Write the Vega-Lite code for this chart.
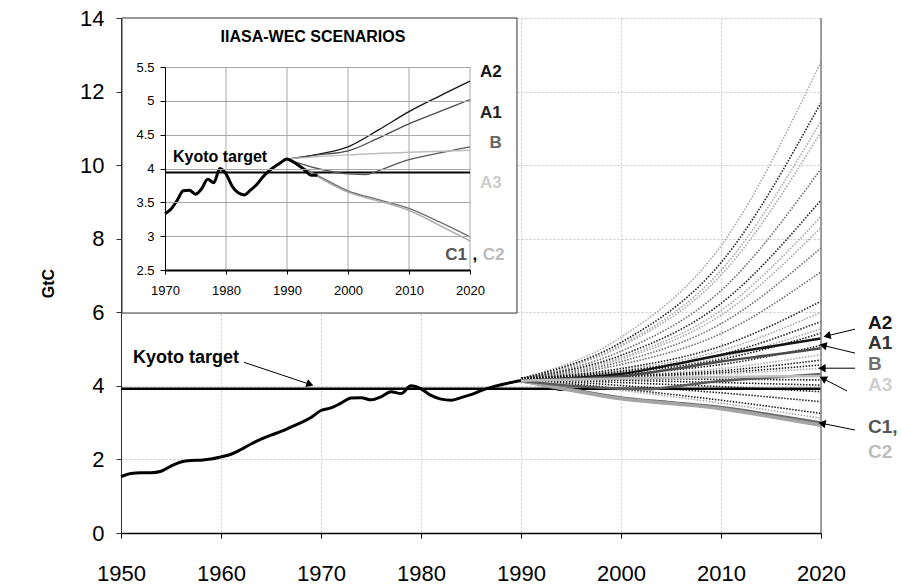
{
"$schema":"https://vega.github.io/schema/vega-lite/v6.json",
"width":700,"height":515,
"autosize":{"type":"none"},
"padding":{"left":121,"top":18,"right":80,"bottom":53},
"background":"white",
"config":{"font":"Liberation Sans","view":{"stroke":null}},
"datasets":{
"hist":[
{"year":1950,"v":1.53},{"year":1951,"v":1.62},{"year":1952,"v":1.64},{"year":1953,"v":1.64},{"year":1954,"v":1.68},
{"year":1955,"v":1.82},{"year":1956,"v":1.93},{"year":1957,"v":1.97},{"year":1958,"v":1.98},{"year":1959,"v":2.01},
{"year":1960,"v":2.07},{"year":1961,"v":2.14},{"year":1962,"v":2.27},{"year":1963,"v":2.42},{"year":1964,"v":2.55},
{"year":1965,"v":2.66},{"year":1966,"v":2.76},{"year":1967,"v":2.88},{"year":1968,"v":3.0},{"year":1969,"v":3.14},
{"year":1970,"v":3.33},{"year":1971,"v":3.4},{"year":1972,"v":3.53},{"year":1973,"v":3.67},{"year":1974,"v":3.68},
{"year":1975,"v":3.62},{"year":1976,"v":3.7},{"year":1977,"v":3.84},{"year":1978,"v":3.79},{"year":1979,"v":4.0},
{"year":1980,"v":3.92},{"year":1981,"v":3.74},{"year":1982,"v":3.64},{"year":1983,"v":3.61},{"year":1984,"v":3.68},
{"year":1985,"v":3.76},{"year":1986,"v":3.87},{"year":1987,"v":3.96},{"year":1988,"v":4.03},{"year":1989,"v":4.09},
{"year":1990,"v":4.14},{"year":1991,"v":4.1},{"year":1992,"v":4.04},{"year":1993,"v":3.97},{"year":1994,"v":3.9},{"year":1995,"v":3.9}
],
"scen":[
{"s":"A2","year":1990,"v":4.14},{"s":"A2","year":1995,"v":4.21},{"s":"A2","year":2000,"v":4.32},{"s":"A2","year":2005,"v":4.57},{"s":"A2","year":2010,"v":4.84},{"s":"A2","year":2015,"v":5.07},{"s":"A2","year":2020,"v":5.29},
{"s":"A1","year":1990,"v":4.14},{"s":"A1","year":1995,"v":4.2},{"s":"A1","year":2000,"v":4.26},{"s":"A1","year":2005,"v":4.45},{"s":"A1","year":2010,"v":4.66},{"s":"A1","year":2015,"v":4.84},{"s":"A1","year":2020,"v":5.02},
{"s":"B","year":1990,"v":4.14},{"s":"B","year":1995,"v":4.0},{"s":"B","year":2000,"v":3.92},{"s":"B","year":2003,"v":3.91},{"s":"B","year":2005,"v":3.97},{"s":"B","year":2010,"v":4.13},{"s":"B","year":2015,"v":4.23},{"s":"B","year":2020,"v":4.32},
{"s":"A3","year":1990,"v":4.14},{"s":"A3","year":2000,"v":4.2},{"s":"A3","year":2010,"v":4.24},{"s":"A3","year":2020,"v":4.27},
{"s":"C1","year":1990,"v":4.14},{"s":"C1","year":1995,"v":3.9},{"s":"C1","year":2000,"v":3.67},{"s":"C1","year":2005,"v":3.54},{"s":"C1","year":2010,"v":3.41},{"s":"C1","year":2015,"v":3.21},{"s":"C1","year":2020,"v":2.99},
{"s":"C2","year":1990,"v":4.14},{"s":"C2","year":1995,"v":3.88},{"s":"C2","year":2000,"v":3.65},{"s":"C2","year":2005,"v":3.52},{"s":"C2","year":2010,"v":3.38},{"s":"C2","year":2015,"v":3.16},{"s":"C2","year":2020,"v":2.93}
],
"fan":[
{"id":"d1","k":"L","year":1990,"v":4.2},{"id":"d1","k":"L","year":2000,"v":5.32},{"id":"d1","k":"L","year":2010,"v":7.81},{"id":"d1","k":"L","year":2020,"v":12.8},
{"id":"d2","k":"D","year":1990,"v":4.2},{"id":"d2","k":"D","year":2000,"v":5.18},{"id":"d2","k":"D","year":2010,"v":7.35},{"id":"d2","k":"D","year":2020,"v":11.7},
{"id":"d3","k":"L","year":1990,"v":4.2},{"id":"d3","k":"L","year":2000,"v":5.11},{"id":"d3","k":"L","year":2010,"v":7.14},{"id":"d3","k":"L","year":2020,"v":11.2},
{"id":"d4","k":"L","year":1990,"v":4.2},{"id":"d4","k":"L","year":2000,"v":5.07},{"id":"d4","k":"L","year":2010,"v":7.01},{"id":"d4","k":"L","year":2020,"v":10.9},
{"id":"d5","k":"M","year":1990,"v":4.2},{"id":"d5","k":"M","year":2000,"v":4.94},{"id":"d5","k":"M","year":2010,"v":6.59},{"id":"d5","k":"M","year":2020,"v":9.9},
{"id":"d6","k":"D","year":1990,"v":4.2},{"id":"d6","k":"D","year":2000,"v":4.83},{"id":"d6","k":"D","year":2010,"v":6.24},{"id":"d6","k":"D","year":2020,"v":9.05},
{"id":"d7","k":"L","year":1990,"v":4.2},{"id":"d7","k":"L","year":2000,"v":4.77},{"id":"d7","k":"L","year":2010,"v":6.05},{"id":"d7","k":"L","year":2020,"v":8.6},
{"id":"d8","k":"L","year":1990,"v":4.2},{"id":"d8","k":"L","year":2000,"v":4.73},{"id":"d8","k":"L","year":2010,"v":5.92},{"id":"d8","k":"L","year":2020,"v":8.3},
{"id":"d9","k":"M","year":1990,"v":4.2},{"id":"d9","k":"M","year":2000,"v":4.66},{"id":"d9","k":"M","year":2010,"v":5.69},{"id":"d9","k":"M","year":2020,"v":7.75},
{"id":"d10","k":"M","year":1990,"v":4.2},{"id":"d10","k":"M","year":2000,"v":4.58},{"id":"d10","k":"M","year":2010,"v":5.42},{"id":"d10","k":"M","year":2020,"v":7.1},
{"id":"d11","k":"D","year":1990,"v":4.2},{"id":"d11","k":"D","year":2000,"v":4.47},{"id":"d11","k":"D","year":2010,"v":5.08},{"id":"d11","k":"D","year":2020,"v":6.3},
{"id":"d12","k":"L","year":1990,"v":4.2},{"id":"d12","k":"L","year":2000,"v":4.43},{"id":"d12","k":"L","year":2010,"v":4.96},{"id":"d12","k":"L","year":2020,"v":6.0},
{"id":"d13","k":"D","year":1990,"v":4.2},{"id":"d13","k":"D","year":2000,"v":4.4},{"id":"d13","k":"D","year":2010,"v":4.85},{"id":"d13","k":"D","year":2020,"v":5.75},
{"id":"d14","k":"L","year":1990,"v":4.2},{"id":"d14","k":"L","year":2000,"v":4.38},{"id":"d14","k":"L","year":2010,"v":4.77},{"id":"d14","k":"L","year":2020,"v":5.55},
{"id":"d15","k":"D","year":1990,"v":4.2},{"id":"d15","k":"D","year":2000,"v":4.36},{"id":"d15","k":"D","year":2010,"v":4.72},{"id":"d15","k":"D","year":2020,"v":5.43},
{"id":"d16","k":"D","year":1990,"v":4.2},{"id":"d16","k":"D","year":2000,"v":4.32},{"id":"d16","k":"D","year":2010,"v":4.58},{"id":"d16","k":"D","year":2020,"v":5.1},
{"id":"d17","k":"L","year":1990,"v":4.2},{"id":"d17","k":"L","year":2000,"v":4.28},{"id":"d17","k":"L","year":2010,"v":4.47},{"id":"d17","k":"L","year":2020,"v":4.85},
{"id":"d18","k":"D","year":1990,"v":4.2},{"id":"d18","k":"D","year":2000,"v":4.27},{"id":"d18","k":"D","year":2010,"v":4.41},{"id":"d18","k":"D","year":2020,"v":4.7},
{"id":"d19","k":"D","year":1990,"v":4.2},{"id":"d19","k":"D","year":2000,"v":4.25},{"id":"d19","k":"D","year":2010,"v":4.36},{"id":"d19","k":"D","year":2020,"v":4.57},
{"id":"d20","k":"L","year":1990,"v":4.2},{"id":"d20","k":"L","year":2000,"v":4.24},{"id":"d20","k":"L","year":2010,"v":4.32},{"id":"d20","k":"L","year":2020,"v":4.48},
{"id":"d21","k":"D","year":1990,"v":4.2},{"id":"d21","k":"D","year":2000,"v":4.19},{"id":"d21","k":"D","year":2010,"v":4.18},{"id":"d21","k":"D","year":2020,"v":4.16},
{"id":"d22","k":"D","year":1990,"v":4.2},{"id":"d22","k":"D","year":2000,"v":4.15},{"id":"d22","k":"D","year":2010,"v":4.09},{"id":"d22","k":"D","year":2020,"v":4.02},
{"id":"d23","k":"D","year":1990,"v":4.2},{"id":"d23","k":"D","year":2000,"v":4.09},{"id":"d23","k":"D","year":2010,"v":3.98},{"id":"d23","k":"D","year":2020,"v":3.84},
{"id":"d24","k":"D","year":1990,"v":4.2},{"id":"d24","k":"D","year":2000,"v":4.01},{"id":"d24","k":"D","year":2010,"v":3.81},{"id":"d24","k":"D","year":2020,"v":3.57},
{"id":"d25","k":"D","year":1990,"v":4.2},{"id":"d25","k":"D","year":2000,"v":3.92},{"id":"d25","k":"D","year":2010,"v":3.61},{"id":"d25","k":"D","year":2020,"v":3.25},
{"id":"d26","k":"L","year":1990,"v":4.2},{"id":"d26","k":"L","year":2000,"v":3.88},{"id":"d26","k":"L","year":2010,"v":3.53},{"id":"d26","k":"L","year":2020,"v":3.12}
]
},
"layer":[
{
"layer":[
{"data":{"name":"fan"},"transform":[{"filter":"datum.k==='L'"}],
 "mark":{"type":"line","interpolate":"monotone","strokeDash":[1.5,1.5],"strokeWidth":1.6,"color":"#a8a8a8"},
 "encoding":{
  "x":{"field":"year","type":"quantitative","scale":{"domain":[1950,2020],"nice":false,"zero":false},
   "axis":{"values":[1950,1960,1970,1980,1990,2000,2010,2020],"format":"d","title":null,"grid":true,"gridColor":"#c8c8c8","gridDash":[2,2],"gridWidth":1,"domainColor":"#000","domainWidth":1.5,"tickColor":"#000","tickSize":5,"labelFontSize":22,"labelColor":"#000","labelPadding":25,"labelFlush":false,"labelOverlap":false}},
  "y":{"field":"v","type":"quantitative","scale":{"domain":[0,14],"nice":false},
   "axis":{"values":[0,2,4,6,8,10,12,14],"title":"GtC","titleFontSize":16,"titleFontWeight":"bold","titleColor":"#000","titleX":-73,"titleY":265,"titleAngle":-90,"titleAlign":"center","titleBaseline":"middle","grid":true,"gridColor":"#c8c8c8","gridDash":[2,2],"gridWidth":1,"domainColor":"#333","tickColor":"#333","tickSize":5,"labelFontSize":22,"labelColor":"#000","labelPadding":12,"labelFlush":false,"labelOverlap":false}},
  "detail":{"field":"id"}}},
{"data":{"name":"fan"},"transform":[{"filter":"datum.k==='M'"}],
 "mark":{"type":"line","interpolate":"monotone","strokeDash":[1.5,1.5],"strokeWidth":1.6,"color":"#6e6e6e"},
 "encoding":{"x":{"field":"year","type":"quantitative"},"y":{"field":"v","type":"quantitative"},"detail":{"field":"id"}}},
{"data":{"name":"fan"},"transform":[{"filter":"datum.k==='D'"}],
 "mark":{"type":"line","interpolate":"monotone","strokeDash":[1.5,1.5],"strokeWidth":1.6,"color":"#222222"},
 "encoding":{"x":{"field":"year","type":"quantitative"},"y":{"field":"v","type":"quantitative"},"detail":{"field":"id"}}},
{"data":{"values":[{}]},"mark":{"type":"rule","color":"#000","strokeWidth":2.5},
 "encoding":{"x":{"datum":1950},"x2":{"datum":2020},"y":{"datum":3.92}}},
{"data":{"name":"hist"},"mark":{"type":"line","interpolate":"monotone","color":"#000","strokeWidth":3},
 "encoding":{"x":{"field":"year","type":"quantitative"},"y":{"field":"v","type":"quantitative"}}},
{"data":{"name":"scen"},"transform":[{"filter":"datum.s==='C1'||datum.s==='C2'"}],
 "mark":{"type":"line","interpolate":"monotone","strokeWidth":3.5},
 "encoding":{"x":{"field":"year","type":"quantitative"},"y":{"field":"v","type":"quantitative"},
  "color":{"field":"s","type":"nominal","scale":{"domain":["A2","A1","B","A3","C1","C2"],"range":["#151515","#4a4a4a","#5a5a5a","#bdbdbd","#6e6e6e","#a5a5a5"]},"legend":null}}},
{"data":{"name":"scen"},"transform":[{"filter":"datum.s!=='C1'&&datum.s!=='C2'"}],
 "mark":{"type":"line","interpolate":"monotone","strokeWidth":2.5},
 "encoding":{"x":{"field":"year","type":"quantitative"},"y":{"field":"v","type":"quantitative"},
  "color":{"field":"s","type":"nominal","legend":null}}},
{"data":{"values":[{}]},"mark":{"type":"rule","color":"#808080","strokeWidth":1.5},
 "encoding":{"x":{"datum":2020},"y":{"datum":0},"y2":{"datum":14}}},
{"data":{"values":[{}]},"mark":{"type":"text","text":"Kyoto target","align":"left","baseline":"middle","fontSize":18,"fontWeight":"bold","color":"#000"},
 "encoding":{"x":{"datum":1951.2},"y":{"datum":4.76}}},
{"data":{"values":[{}]},"mark":{"type":"rule","color":"#000","strokeWidth":1},
 "encoding":{"x":{"datum":1962.3},"y":{"datum":4.64},"x2":{"datum":1968.9},"y2":{"datum":4.04}}},
{"data":{"values":[{}]},"mark":{"type":"point","shape":"triangle-up","filled":true,"color":"#000","opacity":1,"size":70,"angle":110},
 "encoding":{"x":{"datum":1968.9},"y":{"datum":4.04}}},
{"data":{"values":[{}]},"mark":{"type":"rule","color":"#000","strokeWidth":1},
 "encoding":{"x":{"datum":2023.4},"y":{"datum":5.54},"x2":{"datum":2020.6},"y2":{"datum":5.36}}},
{"data":{"values":[{}]},"mark":{"type":"point","shape":"triangle-up","filled":true,"color":"#000","opacity":1,"size":70,"angle":257},
 "encoding":{"x":{"datum":2020.6},"y":{"datum":5.36}}},
{"data":{"values":[{}]},"mark":{"type":"rule","color":"#000","strokeWidth":1},
 "encoding":{"x":{"datum":2023.4},"y":{"datum":4.89},"x2":{"datum":2020.2},"y2":{"datum":5.1}}},
{"data":{"values":[{}]},"mark":{"type":"point","shape":"triangle-up","filled":true,"color":"#000","opacity":1,"size":70,"angle":283},
 "encoding":{"x":{"datum":2020.2},"y":{"datum":5.1}}},
{"data":{"values":[{}]},"mark":{"type":"rule","color":"#000","strokeWidth":1},
 "encoding":{"x":{"datum":2023.4},"y":{"datum":4.48},"x2":{"datum":2020.1},"y2":{"datum":4.48}}},
{"data":{"values":[{}]},"mark":{"type":"point","shape":"triangle-up","filled":true,"color":"#000","opacity":1,"size":70,"angle":270},
 "encoding":{"x":{"datum":2020.1},"y":{"datum":4.48}}},
{"data":{"values":[{}]},"mark":{"type":"rule","color":"#000","strokeWidth":1},
 "encoding":{"x":{"datum":2022.6},"y":{"datum":3.86},"x2":{"datum":2020.2},"y2":{"datum":4.2}}},
{"data":{"values":[{}]},"mark":{"type":"point","shape":"triangle-up","filled":true,"color":"#000","opacity":1,"size":70,"angle":297},
 "encoding":{"x":{"datum":2020.2},"y":{"datum":4.2}}},
{"data":{"values":[{}]},"mark":{"type":"rule","color":"#000","strokeWidth":1},
 "encoding":{"x":{"datum":2023.4},"y":{"datum":2.8},"x2":{"datum":2020.1},"y2":{"datum":2.98}}},
{"data":{"values":[{}]},"mark":{"type":"point","shape":"triangle-up","filled":true,"color":"#000","opacity":1,"size":70,"angle":281},
 "encoding":{"x":{"datum":2020.1},"y":{"datum":2.98}}},
{"data":{"values":[{}]},"mark":{"type":"text","text":"A2","align":"left","baseline":"middle","fontSize":19,"fontWeight":"bold","color":"#151515"},
 "encoding":{"x":{"datum":2024.7},"y":{"datum":5.71}}},
{"data":{"values":[{}]},"mark":{"type":"text","text":"A1","align":"left","baseline":"middle","fontSize":19,"fontWeight":"bold","color":"#333333"},
 "encoding":{"x":{"datum":2024.7},"y":{"datum":5.16}}},
{"data":{"values":[{}]},"mark":{"type":"text","text":"B","align":"left","baseline":"middle","fontSize":19,"fontWeight":"bold","color":"#707070"},
 "encoding":{"x":{"datum":2024.7},"y":{"datum":4.59}}},
{"data":{"values":[{}]},"mark":{"type":"text","text":"A3","align":"left","baseline":"middle","fontSize":19,"fontWeight":"bold","color":"#cfcfcf"},
 "encoding":{"x":{"datum":2024.7},"y":{"datum":4.02}}},
{"data":{"values":[{}]},"mark":{"type":"text","text":"C1,","align":"left","baseline":"middle","fontSize":19,"fontWeight":"bold","color":"#555555"},
 "encoding":{"x":{"datum":2024.7},"y":{"datum":2.88}}},
{"data":{"values":[{}]},"mark":{"type":"text","text":"C2","align":"left","baseline":"middle","fontSize":19,"fontWeight":"bold","color":"#bdbdbd"},
 "encoding":{"x":{"datum":2024.7},"y":{"datum":2.2}}}
]
},
{
"layer":[
{"data":{"values":[{}]},"mark":{"type":"rect","fill":"#ffffff","stroke":"#333333","strokeWidth":1},
 "encoding":{
  "x":{"datum":1962.95,"type":"quantitative","scale":{"domain":[1970,2020],"range":[44,349],"nice":false,"zero":false},
   "axis":{"orient":"bottom","offset":-263,"values":[1970,1980,1990,2000,2010,2020],"format":"d","title":null,"grid":false,"domainColor":"#000","domainWidth":2,"tickColor":"#000","tickSize":4,"labelFontSize":13,"labelColor":"#000","labelPadding":10,"labelFlush":false,"labelOverlap":false,"zindex":1}},
  "x2":{"datum":2027.7},
  "y":{"datum":6.224,"type":"quantitative","scale":{"domain":[2.5,5.5],"range":[252,49],"nice":false,"zero":false},
   "axis":{"orient":"left","offset":-44,"values":[2.5,3,3.5,4,4.5,5,5.5],"format":"~g","title":null,"grid":true,"gridColor":"#a8a8a8","gridWidth":1,"domainColor":"#000","tickColor":"#000","tickSize":5,"labelFontSize":13,"labelColor":"#000","labelPadding":6,"labelFlush":false,"labelOverlap":false,"zindex":1}},
  "y2":{"datum":1.864}}},
{"data":{"values":[{}]},"mark":{"type":"rule","color":"#a8a8a8","strokeWidth":1},
 "encoding":{"x":{"datum":1980},"y":{"datum":2.5},"y2":{"datum":5.5}}},
{"data":{"values":[{}]},"mark":{"type":"rule","color":"#a8a8a8","strokeWidth":1},
 "encoding":{"x":{"datum":1990},"y":{"datum":2.5},"y2":{"datum":5.5}}},
{"data":{"values":[{}]},"mark":{"type":"rule","color":"#a8a8a8","strokeWidth":1},
 "encoding":{"x":{"datum":2000},"y":{"datum":2.5},"y2":{"datum":5.5}}},
{"data":{"values":[{}]},"mark":{"type":"rule","color":"#a8a8a8","strokeWidth":1},
 "encoding":{"x":{"datum":2010},"y":{"datum":2.5},"y2":{"datum":5.5}}},
{"data":{"values":[{}]},"mark":{"type":"rule","color":"#a8a8a8","strokeWidth":1},
 "encoding":{"x":{"datum":2020},"y":{"datum":2.5},"y2":{"datum":5.5}}},
{"data":{"values":[{}]},"mark":{"type":"rule","color":"#000","strokeWidth":2},
 "encoding":{"x":{"datum":1970},"x2":{"datum":2020},"y":{"datum":3.94}}},
{"data":{"name":"scen"},"mark":{"type":"line","interpolate":"monotone","strokeWidth":1.3},
 "encoding":{"x":{"field":"year","type":"quantitative"},"y":{"field":"v","type":"quantitative"},
  "color":{"field":"s","type":"nominal","legend":null}}},
{"data":{"name":"hist"},"transform":[{"filter":"datum.year>=1970"}],"mark":{"type":"line","interpolate":"monotone","color":"#000","strokeWidth":3},
 "encoding":{"x":{"field":"year","type":"quantitative"},"y":{"field":"v","type":"quantitative"}}},
{"data":{"values":[{}]},"mark":{"type":"text","text":"IIASA-WEC SCENARIOS","align":"center","baseline":"middle","fontSize":16,"fontWeight":"bold","color":"#000"},
 "encoding":{"x":{"datum":1994.26},"y":{"datum":5.94}}},
{"data":{"values":[{}]},"mark":{"type":"text","text":"Kyoto target","align":"left","baseline":"middle","fontSize":16,"fontWeight":"bold","color":"#000"},
 "encoding":{"x":{"datum":1971.3},"y":{"datum":4.17}}},
{"data":{"values":[{}]},"mark":{"type":"text","text":"A2","align":"right","baseline":"middle","fontSize":17,"fontWeight":"bold","color":"#151515"},
 "encoding":{"x":{"datum":2025.2},"y":{"datum":5.43}}},
{"data":{"values":[{}]},"mark":{"type":"text","text":"A1","align":"right","baseline":"middle","fontSize":17,"fontWeight":"bold","color":"#222222"},
 "encoding":{"x":{"datum":2025.2},"y":{"datum":4.82}}},
{"data":{"values":[{}]},"mark":{"type":"text","text":"B","align":"right","baseline":"middle","fontSize":17,"fontWeight":"bold","color":"#666666"},
 "encoding":{"x":{"datum":2025.2},"y":{"datum":4.38}}},
{"data":{"values":[{}]},"mark":{"type":"text","text":"A3","align":"right","baseline":"middle","fontSize":17,"fontWeight":"bold","color":"#cccccc"},
 "encoding":{"x":{"datum":2025.2},"y":{"datum":3.79}}},
{"data":{"values":[{}]},"mark":{"type":"text","text":"C1","align":"right","baseline":"middle","fontSize":17,"fontWeight":"bold","color":"#555555"},
 "encoding":{"x":{"datum":2019.5},"y":{"datum":2.72}}},
{"data":{"values":[{}]},"mark":{"type":"text","text":",","align":"center","baseline":"middle","fontSize":17,"fontWeight":"bold","color":"#000"},
 "encoding":{"x":{"datum":2020.8},"y":{"datum":2.72}}},
{"data":{"values":[{}]},"mark":{"type":"text","text":"C2","align":"left","baseline":"middle","fontSize":17,"fontWeight":"bold","color":"#bbbbbb"},
 "encoding":{"x":{"datum":2022.1},"y":{"datum":2.72}}}
]
}
],
"resolve":{"scale":{"x":"independent","y":"independent"}}
}
